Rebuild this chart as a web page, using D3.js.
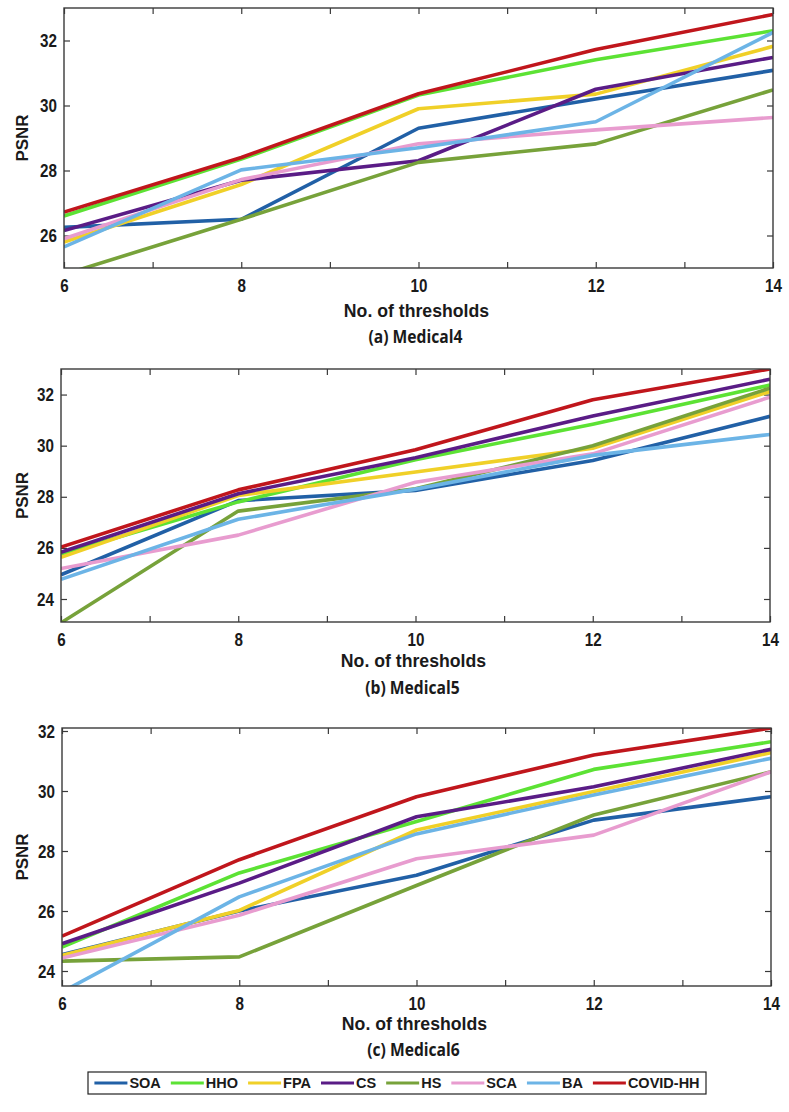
<!DOCTYPE html>
<html><head><meta charset="utf-8">
<script src="https://cdn.jsdelivr.net/npm/d3@7"></script>
<style>
html,body{margin:0;padding:0;background:#fff;}
svg text{fill:#1a1a1a;}
.tick text{font-family:"Liberation Sans",Arial,sans-serif;font-weight:bold;font-size:19px;}
.xtitle{font-family:"Liberation Sans",Arial,sans-serif;font-size:19px;font-weight:bold;}
.ytitle{font-family:"Liberation Sans",Arial,sans-serif;font-size:17px;font-weight:bold;}
.sub{font-family:"Open Sans","Liberation Sans",sans-serif;font-size:17px;font-weight:700;}
.leg{font-family:"Liberation Sans",Arial,sans-serif;font-size:14.5px;font-weight:bold;}
</style></head>
<body><svg id="c" width="789" height="1112"></svg>
<script>
const thresholds = [6, 8, 10, 12, 14];
const seriesNames = ["SOA","HHO","FPA","CS","HS","SCA","BA","COVID-HH"];
const seriesColors = ["#2160a6","#5ce234","#f0d028","#5a1c86","#77a23a","#e89ccf","#6cb4e6","#c0161c"];
const yTicks = [24, 26, 28, 30, 32];
const xTickLabels = ["6","8","10","12","14"];
const panelTitles = ["(a) Medical4","(b) Medical5","(c) Medical6"];

// PSNR values per series (order of seriesNames), x = thresholds
const medical4 = [
  [26.25, 26.5, 29.3, 30.2, 31.08],   // SOA
  [26.6, 28.35, 30.32, 31.41, 32.3],  // HHO
  [25.8, 27.57, 29.9, 30.35, 31.82],  // FPA
  [26.15, 27.7, 28.3, 30.5, 31.48],   // CS
  [24.8, 26.5, 28.25, 28.82, 30.48],  // HS
  [25.9, 27.72, 28.82, 29.25, 29.63], // SCA
  [25.65, 28.02, 28.7, 29.5, 32.25],  // BA
  [26.72, 28.4, 30.36, 31.72, 32.8]   // COVID-HH
];
const medical5 = [
  [24.95, 27.85, 28.25, 29.42, 31.15],
  [25.76, 27.8, 29.45, 30.84, 32.37],
  [25.63, 28.05, 28.97, 29.9, 32.12],
  [25.83, 28.12, 29.53, 31.16, 32.6],
  [23.07, 27.44, 28.31, 30.0, 32.25],
  [25.19, 26.5, 28.57, 29.68, 31.9],
  [24.77, 27.12, 28.3, 29.62, 30.44],
  [26.03, 28.27, 29.84, 31.8, 33.0]
];
const medical6 = [
  [24.55, 26.0, 27.19, 29.03, 29.81],
  [24.8, 27.27, 28.98, 30.72, 31.64],
  [24.52, 26.02, 28.7, 29.98, 31.28],
  [24.91, 26.93, 29.14, 30.14, 31.39],
  [24.33, 24.47, 26.85, 29.2, 30.64],
  [24.43, 25.86, 27.74, 28.53, 30.64],
  [23.3, 26.47, 28.57, 29.87, 31.09],
  [25.16, 27.71, 29.81, 31.2, 32.1]
];
const panelData = [medical4, medical5, medical6];
const yDomains = [[25, 33], [23.1, 33], [23.5, 32.1]];

const layout = [
  {l:64, r:773, t:8, b:268, xt:317, st:343},
  {l:61, r:770, t:369, b:622, xt:667, st:694},
  {l:62, r:771, t:728, b:986, xt:1030, st:1056}
];

const svg = d3.select("#c");
const frameColor = "#3a3a3a";

function condense(sel, f) {
  sel.each(function() {
    const t = d3.select(this);
    if (!t.text()) return;
    const w = this.getComputedTextLength();
    t.attr("textLength", w * f).attr("lengthAdjust", "spacingAndGlyphs");
  });
}

layout.forEach((L, pi) => {
  const x = d3.scaleLinear().domain([6, 14]).range([L.l, L.r]);
  const y = d3.scaleLinear().domain(yDomains[pi]).range([L.b, L.t]);
  const g = svg.append("g");
  const cid = "clip" + pi;
  svg.append("clipPath").attr("id", cid).append("rect")
    .attr("x", L.l).attr("y", L.t).attr("width", L.r - L.l).attr("height", L.b - L.t);

  const yt = yTicks.filter(v => v >= yDomains[pi][0] && v <= yDomains[pi][1] + 0.15);
  const xb = d3.axisBottom(x).tickValues(d3.range(6, 15)).tickSize(-6)
    .tickFormat(d => d % 2 === 0 ? xTickLabels[(d - 6) / 2] : "").tickPadding(11);
  const gx = g.append("g").attr("transform", `translate(0,${L.b})`).call(xb);
  const xtAx = d3.axisTop(x).tickValues(d3.range(6, 15)).tickSize(-6).tickFormat("");
  g.append("g").attr("transform", `translate(0,${L.t})`).call(xtAx);
  const yl = d3.axisLeft(y).tickValues(yt).tickSize(-6).tickPadding(7).tickFormat(d3.format("d"));
  const gy = g.append("g").attr("transform", `translate(${L.l},0)`).call(yl);
  const yr = d3.axisRight(y).tickValues(yt).tickSize(-6).tickFormat("");
  g.append("g").attr("transform", `translate(${L.r},0)`).call(yr);
  g.selectAll(".domain").remove();
  g.selectAll(".tick line").attr("stroke", frameColor).attr("stroke-width", 1.2);
  condense(gx.selectAll(".tick text"), 0.8);
  condense(gy.selectAll(".tick text"), 0.8);

  const line = d3.line().x((d, i) => x(thresholds[i])).y(d => y(d));
  const lg = g.append("g").attr("clip-path", `url(#${cid})`);
  panelData[pi].forEach((vals, si) => {
    lg.append("path").datum(vals).attr("d", line)
      .attr("fill", "none").attr("stroke", seriesColors[si])
      .attr("stroke-width", 3.6).attr("stroke-linejoin", "round");
  });

  g.append("rect").attr("x", L.l).attr("y", L.t).attr("width", L.r - L.l).attr("height", L.b - L.t)
    .attr("fill", "none").attr("stroke", frameColor).attr("stroke-width", 1.4);

  const xtitle = g.append("text").attr("class", "xtitle").attr("x", (L.l + L.r) / 2 - 2).attr("y", L.xt)
    .attr("text-anchor", "middle").text("No. of thresholds");
  condense(xtitle, 0.93);
  g.append("text").attr("class", "ytitle")
    .attr("transform", `translate(28,${(L.t + L.b) / 2}) rotate(-90)`)
    .attr("text-anchor", "middle").text("PSNR");
  const sub = g.append("text").attr("class", "sub").attr("x", (L.l + L.r) / 2 - 3).attr("y", L.st)
    .attr("text-anchor", "middle").text(panelTitles[pi]);
  condense(sub, 0.92);
});

// legend
const leg = svg.append("g");
const box = {l:88, r:706, t:1072, b:1094};
leg.append("rect").attr("x", box.l).attr("y", box.t).attr("width", box.r - box.l).attr("height", box.b - box.t)
  .attr("fill", "#fff").attr("stroke", "#222").attr("stroke-width", 1.2);
const items = [];
let cx = 0;
seriesNames.forEach((n, i) => {
  const it = leg.append("g");
  it.append("line").attr("x1", 0).attr("x2", 33).attr("y1", 0).attr("y2", 0)
    .attr("stroke", seriesColors[i]).attr("stroke-width", 3.2);
  const t = it.append("text").attr("class", "leg").attr("x", 35).attr("y", 5).text(n);
  const w = t.node().getComputedTextLength();
  items.push({it, start: cx});
  cx += 35 + w + 10;
});
const total = cx - 10;
const off = box.l + ((box.r - box.l) - total) / 2;
items.forEach(o => o.it.attr("transform", `translate(${off + o.start},${(box.t + box.b) / 2})`));
</script></body></html>
